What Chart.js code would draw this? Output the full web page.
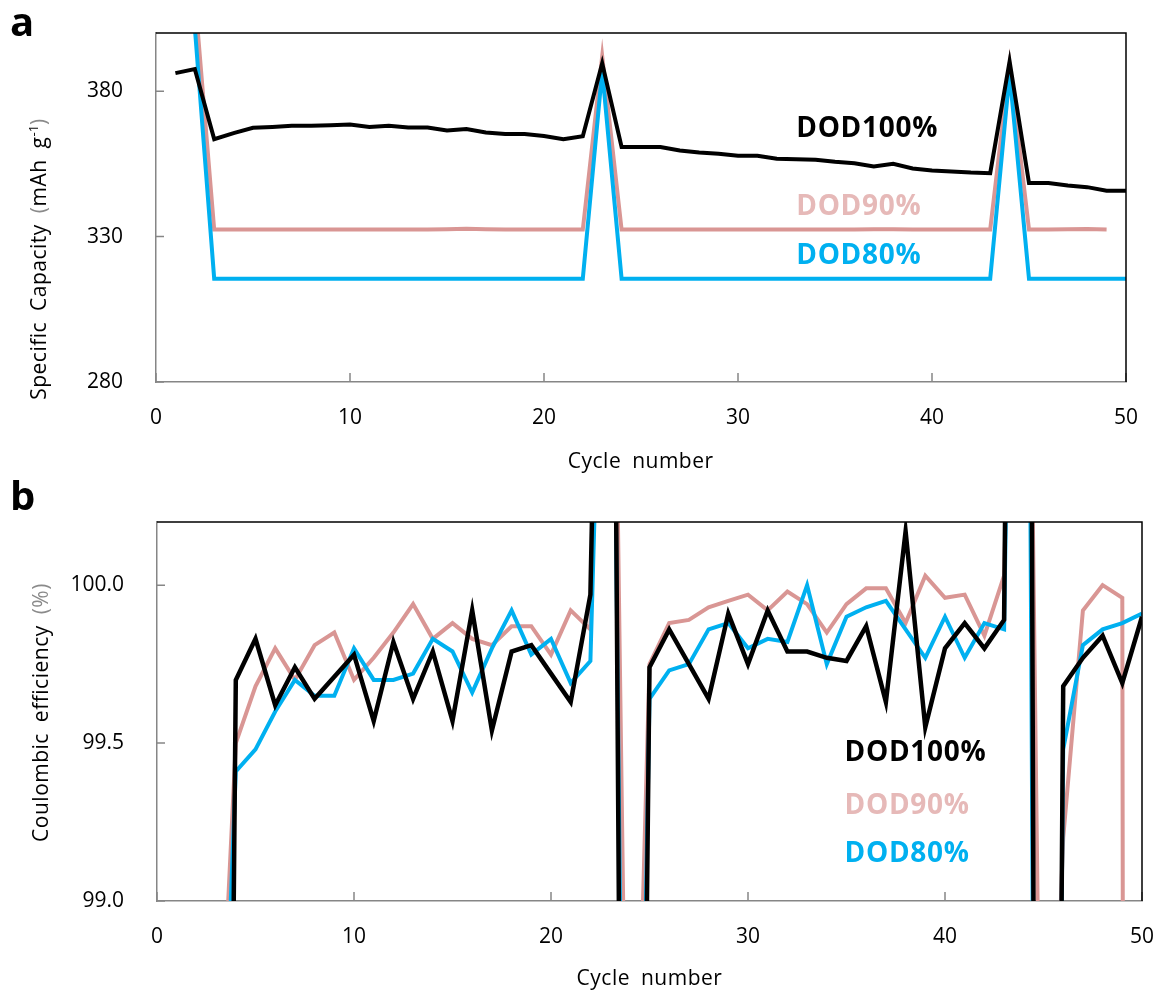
<!DOCTYPE html>
<html>
<head>
<meta charset="utf-8">
<script src="https://cdn.jsdelivr.net/npm/chart.js@4.4.1/dist/chart.umd.min.js"></script>
<style>
  html, body { margin: 0; padding: 0; background: #ffffff; }
  #wrap { position: relative; width: 1158px; height: 1003px; overflow: hidden; }
  .panel { position: absolute; left: 0; width: 1158px; }
  #pa { top: 0; height: 490px; }
  #pb { top: 465px; height: 538px; }
</style>
</head>
<body>
<div id="wrap">
  <div class="panel" id="pa"><canvas id="capacity"></canvas></div>
  <div class="panel" id="pb"><canvas id="efficiency"></canvas></div>
</div>
<script>
// ---- data ----------------------------------------------------------------
const cycles = [1,2,3,4,5,6,7,8,9,10,11,12,13,14,15,16,17,18,19,20,
                21,22,23,24,25,26,27,28,29,30,31,32,33,34,35,36,37,38,39,40,
                41,42,43,44,45,46,47,48,49,50];

const xTicks = [0, 10, 20, 30, 40, 50];
const capTicks = [280, 330, 380];
const ceTicks = [99.0, 99.5, 100.0];

// specific capacity, mAh g-1
const capDOD100 = [386.2,387.6,363.5,365.6,367.4,367.7,368.1,368.1,368.3,368.5,
                   367.7,368.1,367.5,367.5,366.5,367.0,365.8,365.3,365.3,364.6,
                   363.5,364.5,389.6,360.8,360.8,360.8,359.6,358.9,358.5,357.8,
                   357.8,356.8,356.6,356.4,355.7,355.2,354.1,355.0,353.4,352.7,
                   352.4,352.0,351.8,390.2,348.4,348.4,347.6,347.0,345.8,345.8];
const capDOD90  = [null,413.0,332.4,332.4,332.4,332.4,332.4,332.4,332.4,332.4,
                   332.4,332.4,332.4,332.4,332.5,332.7,332.5,332.4,332.4,332.4,
                   332.4,332.4,392.0,332.4,332.4,332.4,332.4,332.4,332.4,332.4,
                   332.4,332.4,332.4,332.4,332.4,332.4,332.5,332.5,332.4,332.4,
                   332.4,332.4,332.4,389.0,332.4,332.4,332.5,332.6,332.4,null];
const capDOD80  = [null,402.0,315.5,315.5,315.5,315.5,315.5,315.5,315.5,315.5,
                   315.5,315.5,315.5,315.5,315.5,315.5,315.5,315.5,315.5,315.5,
                   315.5,315.5,387.0,315.5,315.5,315.5,315.5,315.5,315.5,315.5,
                   315.5,315.5,315.5,315.5,315.5,315.5,315.5,315.5,315.5,315.5,
                   315.5,315.5,315.5,386.0,315.5,315.5,315.5,315.5,315.5,315.5];

// coulombic efficiency, %
const ceDOD100 = [null,null,93.0,99.70,99.83,99.62,99.74,99.64,99.71,99.78,
                  99.57,99.82,99.64,99.79,99.57,99.92,99.54,99.79,99.81,99.72,
                  99.63,99.97,103.0,94.0,99.74,99.86,99.75,99.64,99.91,99.75,
                  99.92,99.79,99.79,99.77,99.76,99.87,99.63,100.17,99.55,99.80,
                  99.88,99.80,99.89,106.5,91.2,99.68,99.77,99.84,99.69,99.90];
const ceDOD90  = [null,null,98.2,99.50,99.68,99.80,99.70,99.81,99.85,99.70,
                  99.77,99.85,99.94,99.83,99.88,99.83,99.81,99.87,99.87,99.78,
                  99.92,99.86,102.0,97.47,99.75,99.88,99.89,99.93,99.95,99.97,
                  99.92,99.98,99.94,99.85,99.94,99.99,99.99,99.88,100.03,99.96,
                  99.97,99.84,100.03,102.5,97.5,99.2,99.92,100.0,99.96,60.0];
const ceDOD80  = [null,null,97.8,99.41,99.48,99.60,99.70,99.65,99.65,99.80,
                  99.70,99.70,99.72,99.83,99.79,99.66,99.80,99.92,99.78,99.83,
                  99.69,99.76,101.96,96.05,99.64,99.73,99.75,99.86,99.88,99.80,
                  99.83,99.82,100.0,99.75,99.90,99.93,99.95,99.86,99.77,99.90,
                  99.77,99.88,99.86,103.9,93.0,99.48,99.81,99.86,99.88,99.91];

// ---- styling -------------------------------------------------------------
const FONT = "'Open Sans', 'DejaVu Sans', sans-serif";
const C_BLACK = '#000000';
const C_PINK = '#D99694';
const C_PINK_TEXT = '#E6B9B8';
const C_BLUE = '#00B0F0';
const C_AXIS = '#868686';
const C_PAREN = '#8a8a8a';

const pts = vals => cycles.map((c, i) => ({ x: c, y: vals[i] }));

function series(label, vals, color, width) {
  return {
    label, data: pts(vals), borderColor: color, backgroundColor: color,
    borderWidth: width, pointRadius: 0, tension: 0, clip: 0, spanGaps: false
  };
}

// inward tick marks plus black top/right frame
const frame = {
  id: 'frame',
  afterDraw(chart) {
    const { ctx, chartArea: a, scales: { x, y } } = chart;
    ctx.save();
    ctx.strokeStyle = C_AXIS;
    ctx.lineWidth = 1.5;
    ctx.beginPath();
    x.ticks.forEach(t => {
      const px = x.getPixelForValue(t.value);
      ctx.moveTo(px, a.bottom); ctx.lineTo(px, a.bottom - 9);
    });
    y.ticks.forEach(t => {
      const py = y.getPixelForValue(t.value);
      ctx.moveTo(a.left, py); ctx.lineTo(a.left + 8, py);
    });
    ctx.stroke();
    ctx.strokeStyle = '#000';
    ctx.lineWidth = 1.5;
    ctx.beginPath();
    ctx.moveTo(a.left, a.top); ctx.lineTo(a.right, a.top); ctx.lineTo(a.right, a.bottom);
    ctx.stroke();
    ctx.restore();
  }
};

// text runs: series labels (in data units), axis captions and panel letters (in pixels)
function applyRun(ctx, r) {
  ctx.font = r.font;
  ctx.wordSpacing = r.ws || '0px';
  ctx.letterSpacing = r.ls || '0px';
}
function drawRuns(ctx, runs, x, y, rotate, align, baseline) {
  ctx.save();
  ctx.translate(x, y);
  if (rotate) ctx.rotate(-Math.PI / 2);
  let total = 0;
  runs.forEach(r => { applyRun(ctx, r); total += ctx.measureText(r.text).width; });
  let cx = align === 'left' ? 0 : -total / 2;
  ctx.textBaseline = baseline || 'middle';
  ctx.textAlign = 'left';
  runs.forEach(r => {
    applyRun(ctx, r);
    ctx.fillStyle = r.color;
    ctx.fillText(r.text, cx, r.dy || 0);
    cx += ctx.measureText(r.text).width;
  });
  ctx.restore();
}

const annotate = {
  id: 'annotate',
  afterDraw(chart, args, opts) {
    const { ctx, scales: { x, y } } = chart;
    (opts.labels || []).forEach(l => {
      drawRuns(ctx, [{ text: l.text, color: l.color, font: `bold 28px ${FONT}`, ls: '0.7px' }],
        x.getPixelForValue(l.x), y.getPixelForValue(l.y), false, 'left');
    });
    (opts.captions || []).forEach(c => drawRuns(ctx, c.runs, c.x, c.y, c.rotate, c.align, c.baseline));
  }
};

function axisOpts(min, max, ticks, size, padding, fmt) {
  return {
    type: 'linear', min, max,
    afterBuildTicks: s => { s.ticks = ticks.map(v => ({ value: v })); },
    afterFit: s => {
      if (s.isHorizontal()) s.height = size; else s.width = size;
      s.paddingLeft = s.paddingRight = s.paddingTop = s.paddingBottom = 0;
    },
    grid: { display: false, drawTicks: false },
    border: { display: true, color: C_AXIS, width: 1.5 },
    ticks: {
      color: '#000', padding, font: { family: FONT, size: 21 },
      callback: fmt || (v => String(v))
    },
    title: { display: false }
  };
}

const regular = `21px ${FONT}`;
const supFont = `13px ${FONT}`;
const LS = '0.5px', WS = '5px';

new Chart(document.getElementById('capacity'), {
  type: 'line',
  data: {
    datasets: [
      series('DOD100%', capDOD100, C_BLACK, 4),
      series('DOD80%', capDOD80, C_BLUE, 4),
      series('DOD90%', capDOD90, C_PINK, 4)
    ]
  },
  options: {
    responsive: true, maintainAspectRatio: false, animation: false, devicePixelRatio: 1,
    layout: { padding: { top: 33, right: 32, left: 0, bottom: 0 } },
    scales: {
      x: axisOpts(0, 50, xTicks, 108, 23),
      y: axisOpts(280, 400, capTicks, 156, 33)
    },
    plugins: {
      legend: { display: false }, tooltip: { enabled: false },
      annotate: {
        labels: [
          { text: 'DOD100%', color: C_BLACK, x: 33.0, y: 367.0 },
          { text: 'DOD90%', color: C_PINK_TEXT, x: 33.0, y: 340.3 },
          { text: 'DOD80%', color: C_BLUE, x: 33.0, y: 323.2 }
        ],
        captions: [
          { x: 10, y: 36, align: 'left', baseline: 'alphabetic',
            runs: [{ text: 'a', color: '#000', font: `bold 40px ${FONT}` }] },
          { x: 640.7, y: 462, runs: [{ text: 'Cycle number', color: '#000', font: regular, ws: WS, ls: LS }] },
          { x: 40, y: 259, rotate: true, runs: [
            { text: 'Specific Capacity ', color: '#000', font: regular, ws: WS, ls: LS },
            { text: '(', color: C_PAREN, font: regular, ls: LS },
            { text: 'mAh g', color: '#000', font: regular, ws: WS, ls: LS },
            { text: '-1', color: '#000', font: supFont, dy: -6 },
            { text: ')', color: C_PAREN, font: regular, ls: LS }
          ] }
        ]
      }
    }
  },
  plugins: [frame, annotate]
});

new Chart(document.getElementById('efficiency'), {
  type: 'line',
  data: {
    datasets: [
      series('DOD100%', ceDOD100, C_BLACK, 4.5),
      series('DOD80%', ceDOD80, C_BLUE, 4),
      series('DOD90%', ceDOD90, C_PINK, 4)
    ]
  },
  options: {
    responsive: true, maintainAspectRatio: false, animation: false, devicePixelRatio: 1,
    layout: { padding: { top: 57, right: 16, left: 0, bottom: 0 } },
    scales: {
      x: axisOpts(0, 50, xTicks, 102, 23),
      y: axisOpts(99.0, 100.2, ceTicks, 157, 33, v => v.toFixed(1))
    },
    plugins: {
      legend: { display: false }, tooltip: { enabled: false },
      annotate: {
        labels: [
          { text: 'DOD100%', color: C_BLACK, x: 34.9, y: 99.469 },
          { text: 'DOD90%', color: C_PINK_TEXT, x: 34.9, y: 99.301 },
          { text: 'DOD80%', color: C_BLUE, x: 34.9, y: 99.149 }
        ],
        captions: [
          { x: 10, y: 45, align: 'left', baseline: 'alphabetic',
            runs: [{ text: 'b', color: '#000', font: `bold 40px ${FONT}` }] },
          { x: 649.5, y: 514, runs: [{ text: 'Cycle number', color: '#000', font: regular, ws: WS, ls: LS }] },
          { x: 41.7, y: 247.5, rotate: true, runs: [
            { text: 'Coulombic efficiency ', color: '#000', font: regular, ws: WS, ls: LS },
            { text: '(%)', color: C_PAREN, font: regular, ls: LS }
          ] }
        ]
      }
    }
  },
  plugins: [frame, annotate]
});
</script>
</body>
</html>
